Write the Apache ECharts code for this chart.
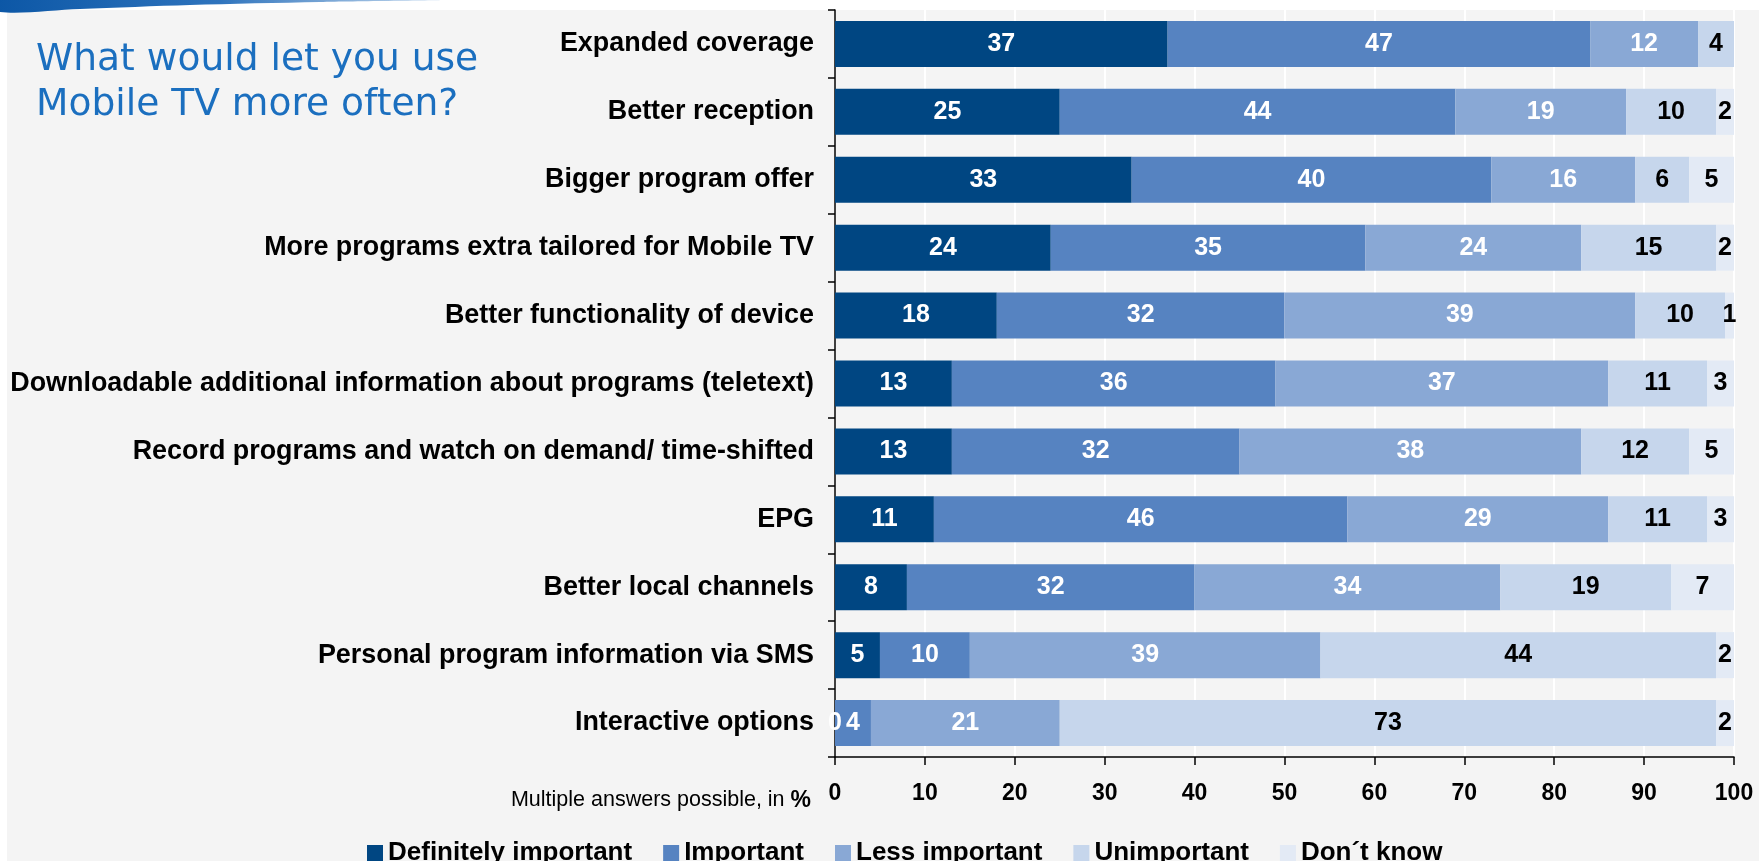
<!DOCTYPE html>
<html>
<head>
<meta charset="utf-8">
<title>Mobile TV usage drivers</title>
<script src="https://cdn.jsdelivr.net/npm/echarts@6/dist/echarts.min.js"></script>
<style>
  html, body { margin: 0; padding: 0; background: #f4f4f4; }
  #chart { width: 1759px; height: 861px; }
</style>
</head>
<body>
<div id="chart"></div>
<script>
// Survey items, top to bottom
const categories = [
  'Expanded coverage',
  'Better reception',
  'Bigger program offer',
  'More programs extra tailored for Mobile TV',
  'Better functionality of device',
  'Downloadable additional information about programs (teletext)',
  'Record programs and watch on demand/ time-shifted',
  'EPG',
  'Better local channels',
  'Personal program information via SMS',
  'Interactive options'
];

// Answer shares in %, one array per answer option
const definitelyImportant = [37, 25, 33, 24, 18, 13, 13, 11, 8, 5, 0];
const important           = [47, 44, 40, 35, 32, 36, 32, 46, 32, 10, 4];
const lessImportant       = [12, 19, 16, 24, 39, 37, 38, 29, 34, 39, 21];
const unimportant         = [4, 10, 6, 15, 10, 11, 12, 11, 19, 44, 73];
const dontKnow            = [null, 2, 5, 2, 1, 3, 5, 3, 7, 2, 2];

const seriesNames = ['Definitely important', 'Important', 'Less important', 'Unimportant', 'Don\u00b4t know'];
const seriesValues = [definitelyImportant, important, lessImportant, unimportant, dontKnow];
const seriesColors = ['#004682', '#5683c1', '#89a8d5', '#c6d6ec', '#e3eaf5'];
const labelColors = ['#ffffff', '#ffffff', '#ffffff', '#000000', '#000000'];

const xTicks = { min: 0, max: 100, step: 10 };

const chart = echarts.init(document.getElementById('chart'), null, { renderer: 'canvas' });

const series = seriesNames.map((name, i) => ({
  name: name,
  type: 'bar',
  stack: 'total',
  barWidth: 46,
  data: seriesValues[i],
  itemStyle: { color: seriesColors[i] },
  label: {
    show: true,
    position: 'inside',
    color: labelColors[i],
    fontFamily: 'Liberation Sans, Arial, sans-serif',
    fontWeight: 'bold',
    fontSize: 25
  },
  emphasis: { disabled: true }
}));

const option = {
  backgroundColor: '#f4f4f4',
  animation: false,
  grid: { left: 835, right: 25, top: 10, bottom: 104, containLabel: false },
  xAxis: {
    type: 'value',
    min: xTicks.min,
    max: xTicks.max,
    interval: xTicks.step,
    axisLine: { show: true, lineStyle: { color: '#000', width: 1.5 } },
    axisTick: { show: true, length: 8, lineStyle: { color: '#000', width: 1.5 } },
    axisLabel: {
      margin: 25,
      color: '#000',
      fontFamily: 'Liberation Sans, Arial, sans-serif',
      fontWeight: 'bold',
      fontSize: 23
    },
    splitLine: { show: true, lineStyle: { color: '#ffffff', width: 2 } }
  },
  yAxis: {
    type: 'category',
    data: categories,
    inverse: true,
    axisLine: { show: true, lineStyle: { color: '#000', width: 1.5 } },
    axisTick: { show: true, length: 7, lineStyle: { color: '#000', width: 1.5 } },
    axisLabel: {
      margin: 21,
      color: '#000',
      fontFamily: 'Liberation Sans, Arial, sans-serif',
      fontWeight: 'bold',
      fontSize: 26.9
    },
    splitLine: { show: false }
  },
  legend: {
    left: 367,
    top: 840,
    icon: 'rect',
    itemWidth: 16,
    itemHeight: 16,
    itemGap: 31,
    padding: 0,
    selectedMode: false,
    textStyle: {
      color: '#000',
      fontFamily: 'Liberation Sans, Arial, sans-serif',
      fontWeight: 'bold',
      fontSize: 26
    },
    data: seriesNames
  },
  graphic: [
    // white header strip and left margin
    { type: 'rect', left: 0, top: 0, shape: { width: 1759, height: 10 }, style: { fill: '#ffffff' }, silent: true },
    { type: 'rect', left: 0, top: 0, shape: { width: 7, height: 861 }, style: { fill: '#ffffff' }, silent: true },
    // blue swoosh in the header corner
    {
      type: 'polygon',
      silent: true,
      shape: {
        points: [[0, 0], [440, 0], [320, 2], [190, 5], [80, 9], [0, 12]],
        smooth: 0.3
      },
      style: {
        fill: new echarts.graphic.LinearGradient(0, 0, 1, 0, [
          { offset: 0, color: '#0c57a6' },
          { offset: 0.5, color: '#2f74bd' },
          { offset: 1, color: '#c9dcf0' }
        ])
      }
    },
    // question heading
    {
      type: 'text', left: 36, top: 38, silent: true,
      style: {
        text: 'What would let you use\nMobile TV more often?',
        fill: '#1b6fbf',
        font: '37.6px "DejaVu Sans", Verdana, sans-serif',
        lineHeight: 45
      }
    },
    // axis note
    {
      type: 'text', silent: true,
      right: 1759 - 811, top: 789,
      style: {
        rich: {
          n: { fontFamily: 'Liberation Sans, Arial, sans-serif', fontSize: 21.5, fill: '#000' },
          p: { fontFamily: 'Liberation Sans, Arial, sans-serif', fontSize: 23, fontWeight: 'bold', fill: '#000' }
        },
        text: '{n|Multiple answers possible, in }{p|%}'
      }
    }
  ],
  series: series
};

chart.setOption(option);
</script>
</body>
</html>
